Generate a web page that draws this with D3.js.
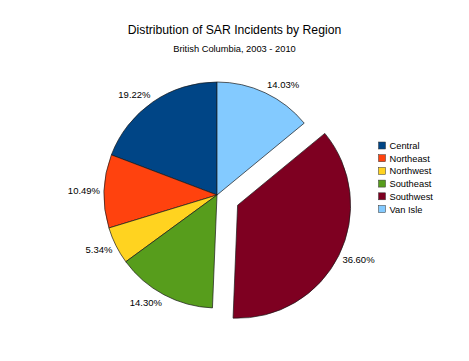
<!DOCTYPE html>
<html>
<head>
<meta charset="utf-8">
<script src="https://cdn.jsdelivr.net/npm/d3@7"></script>
<style>
  body { margin: 0; background: #fff; }
  svg { display: block; font-family: "Liberation Sans", Arial, sans-serif; }
</style>
</head>
<body>
<svg id="chart" width="469" height="361"></svg>
<script>
// region names and share of incidents (%)
const regions = ['Central', 'Northeast', 'Northwest', 'Southeast', 'Southwest', 'Van Isle'];
const shares = [19.22, 10.49, 5.34, 14.30, 36.60, 14.03];
const colors = ['#004586', '#ff420e', '#ffd320', '#579d1c', '#7e0021', '#83caff'];
const exploded = 'Southwest';

const svg = d3.select('#chart');
const cx = 217, cy = 195, r = 113, explode = 23;

svg.append('text')
    .attr('x', 234.5).attr('y', 34)
    .attr('text-anchor', 'middle')
    .style('font-size', '12.2px')
    .style('fill', '#000')
    .text('Distribution of SAR Incidents by Region');

svg.append('text')
    .attr('x', 234.5).attr('y', 52)
    .attr('text-anchor', 'middle')
    .style('font-size', '9.3px')
    .style('fill', '#000')
    .text('British Columbia, 2003 - 2010');

let data = regions.map((name, i) => ({name: name, value: shares[i], color: colors[i]}));

// counter-clockwise from 12 o'clock
let pie = d3.pie().sort(null).value(d => d.value)
    .startAngle(0).endAngle(-2 * Math.PI);
let arc = d3.arc().innerRadius(0).outerRadius(r);

let g = svg.append('g').attr('transform', 'translate(' + cx + ',' + cy + ')');

let slices = g.selectAll('g.slice')
    .data(pie(data))
    .enter()
    .append('g')
    .attr('class', 'slice')
    .attr('transform', function (d) {
        if (d.data.name !== exploded) return null;
        let a = (d.startAngle + d.endAngle) / 2;
        return 'translate(' + (Math.sin(a) * explode) + ',' + (-Math.cos(a) * explode) + ')';
    });

slices.append('path')
    .attr('d', arc)
    .style('fill', d => d.data.color)
    .style('stroke', '#1a1a1a')
    .style('stroke-width', 0.7)
    .style('stroke-linejoin', 'round');

// percentage labels just outside the rim
slices.append('text')
    .style('font-size', '9.5px')
    .style('fill', '#000')
    .attr('text-anchor', function (d) {
        let a = (d.startAngle + d.endAngle) / 2;
        let dx = Math.sin(a);
        return dx > 0.2 ? 'start' : (dx < -0.2 ? 'end' : 'middle');
    })
    .attr('x', function (d) {
        let a = (d.startAngle + d.endAngle) / 2;
        return Math.sin(a) * (r + 4);
    })
    .attr('y', function (d) {
        let a = (d.startAngle + d.endAngle) / 2;
        let dy = -Math.cos(a);
        return dy * (r + 4) + dy * 5;
    })
    .attr('dy', '0.35em')
    .text(d => d.data.value.toFixed(2) + '%');

// legend
let legend = svg.append('g').attr('transform', 'translate(378.5,142)');
let items = legend.selectAll('g')
    .data(data)
    .enter()
    .append('g')
    .attr('transform', (d, i) => 'translate(0,' + (i * 12.7) + ')');

items.append('rect')
    .attr('width', 7).attr('height', 7)
    .style('fill', d => d.color)
    .style('stroke', '#333')
    .style('stroke-width', 0.5);

items.append('text')
    .attr('x', 11).attr('y', 7)
    .style('font-size', '9.3px')
    .style('fill', '#000')
    .text(d => d.name);
</script>
</body>
</html>
